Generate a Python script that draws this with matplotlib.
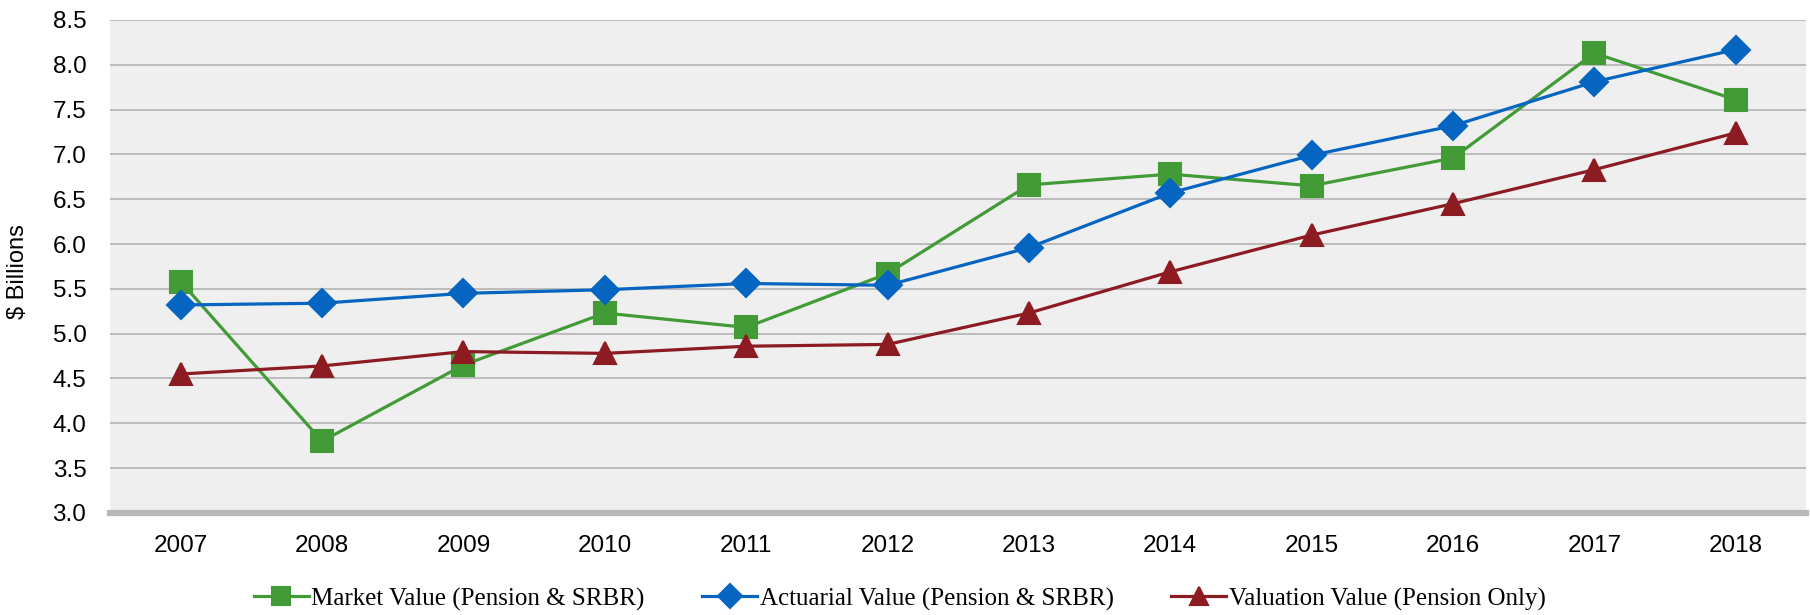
import numpy as np
import matplotlib.pyplot as plt
from matplotlib.ticker import MultipleLocator

# ------------------------ Dados ------------------------
anos = ['2007', '2008', '2009', '2010', '2011', '2012',
        '2013', '2014', '2015', '2016', '2017', '2018']

market = [5.58, 3.80, 4.65, 5.23, 5.07, 5.67, 6.66, 6.78, 6.65, 6.96, 8.13, 7.61]
actuarial = [5.32, 5.34, 5.45, 5.49, 5.56, 5.54, 5.96, 6.57, 6.99, 7.32, 7.81, 8.17]
valuation = [4.55, 4.64, 4.80, 4.78, 4.86, 4.88, 5.23, 5.69, 6.10, 6.45, 6.83, 7.24]

nomes = ['Market Value (Pension & SRBR)',
         'Actuarial Value (Pension & SRBR)',
         'Valuation Value (Pension Only)']

# ------------------------ Figura ------------------------
fig = plt.figure(figsize=(18.1, 6.15), dpi=100)
ax = fig.add_axes([0.0608, 0.166, 0.9372, 0.8015])

x = np.arange(len(anos))

estilo = dict(linewidth=2.3, markeredgewidth=1.5, zorder=3)
ax.plot(x, market, color='#429b37', marker='s', markersize=15.5,
        label=nomes[0], **estilo)
ax.plot(x, actuarial, color='#0565c0', marker='D', markersize=14,
        label=nomes[1], **estilo)
ax.plot(x, valuation, color='#8d1b22', marker='^', markersize=15.5,
        label=nomes[2], **estilo)
for ln in ax.get_lines():
    ln.set_markeredgecolor(ln.get_color())
    ln.set_solid_joinstyle('round')

ax.set_xlim(-0.5, len(anos) - 0.5)
ax.set_ylim(3.0, 8.5)
ax.set_xticks(x)
ax.set_xticklabels(anos)
ax.yaxis.set_major_locator(MultipleLocator(0.5))
ax.yaxis.set_major_formatter(plt.FormatStrFormatter('%.1f'))

ax.set_facecolor('#efefef')
ax.grid(axis='y', color='#b4b4b4', linewidth=1.2)
ax.set_axisbelow(True)

for s in ['top', 'right', 'left']:
    ax.spines[s].set_visible(False)
ax.spines['bottom'].set_color('#b8b8b8')
ax.spines['bottom'].set_linewidth(4.5)

ax.tick_params(axis='both', length=0, labelsize=17.5, colors='black')
ax.tick_params(axis='y', pad=17)
ax.tick_params(axis='x', pad=16)
for lab in ax.get_xticklabels() + ax.get_yticklabels():
    lab.set_family('Liberation Sans')

ax.set_ylabel('$ Billions', fontsize=17, family='Liberation Sans')
ax.yaxis.set_label_coords(-0.048, 0.49)

# ------------------------ Legenda ------------------------
fig.legend(loc='center', bbox_to_anchor=(0.497, 0.026), ncol=3, frameon=False,
           prop={'family': 'Liberation Serif', 'size': 18},
           handlelength=2.2, handletextpad=0.1, columnspacing=2.3,
           markerscale=0.85)

fig.savefig('out.png', dpi=100)
